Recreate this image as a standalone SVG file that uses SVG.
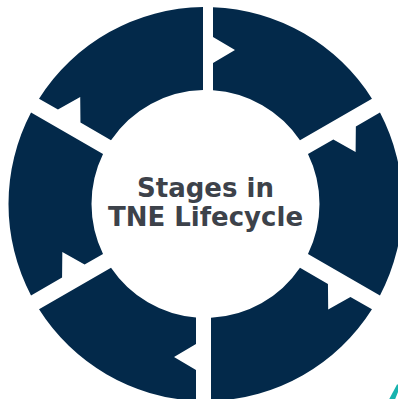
<svg xmlns="http://www.w3.org/2000/svg" width="398" height="399" viewBox="0 0 398 399">
  <style>
    .stage { fill: #03294A; }
    .title { font-family: "DejaVu Sans", Verdana, sans-serif; font-weight: bold; font-size: 26px; fill: #3D424A; text-anchor: middle; }
    .accent { fill: #17B3AE; }
  </style>
  <rect width="398" height="399" fill="#FFFFFF"/>

  <!-- six ring stages, each with a chevron notch at its leading edge -->
  <g id="stage-1">
    <path class="stage" d="M 213,90.25 L 213,63 L 235,50 L 213,37 L 213,7.14 A 197 197 0 0 1 371.97,98.65 L 299.98,140.21 A 114 114 0 0 0 213,90.25 Z"/>
  </g>
  <g id="stage-2">
    <path class="stage" d="M 307.98,154.07 L 333.34,139.43 L 355.6,151.98 L 355.85,126.43 L 379.97,112.51 A 197 197 0 0 1 379.97,295.49 L 307.98,253.93 A 114 114 0 0 0 307.98,154.07 Z"/>
  </g>
  <g id="stage-3">
    <path class="stage" d="M 299.98,267.79 L 327.94,283.93 L 328.19,309.48 L 350.45,296.93 L 371.97,309.35 A 197 197 0 0 1 211,400.92 L 211,317.87 A 114 114 0 0 0 299.98,267.79 Z"/>
  </g>
  <g id="stage-4">
    <path class="stage" d="M 196,317.6 L 196,344 L 174,357 L 196,370 L 196,400.77 A 197 197 0 0 1 39.03,309.35 L 111.02,267.79 A 114 114 0 0 0 196,317.6 Z"/>
  </g>
  <g id="stage-5">
    <path class="stage" d="M 103.02,253.93 L 84.59,264.57 L 62.33,252.02 L 62.07,277.57 L 31.03,295.49 A 197 197 0 0 1 31.03,112.51 L 103.02,154.07 A 114 114 0 0 0 103.02,253.93 Z"/>
  </g>
  <g id="stage-6">
    <path class="stage" d="M 111.02,140.21 L 80.47,122.57 L 80.21,97.02 L 57.95,109.57 L 39.03,98.65 A 197 197 0 0 1 203,7.02 L 203,90.03 A 114 114 0 0 0 111.02,140.21 Z"/>
  </g>

  <!-- centre label -->
  <g id="centre">
    <text class="title" x="205.5" y="197">Stages in</text>
    <text class="title" x="205.5" y="226">TNE Lifecycle</text>
  </g>

  <!-- corner accent stroke -->
  <polygon class="accent" points="389,399.5 397,384.5 401,384.5 395,399.5"/>
</svg>
